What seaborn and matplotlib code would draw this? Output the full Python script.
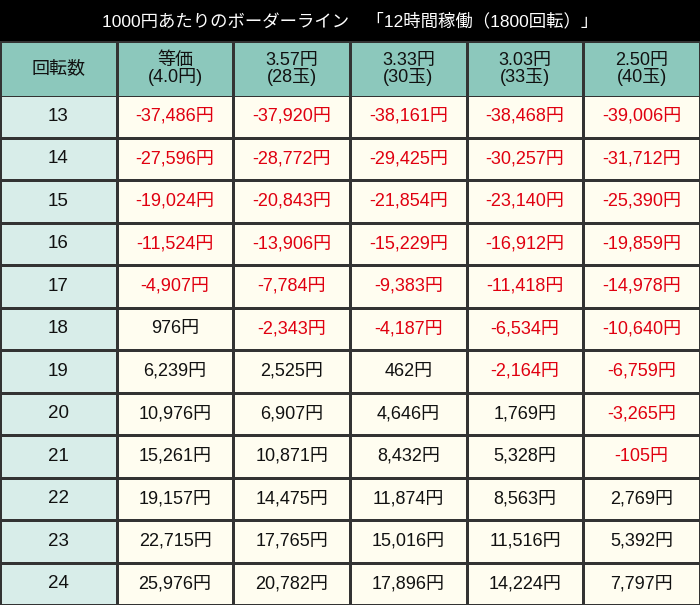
import matplotlib
matplotlib.use("Agg")
import matplotlib.pyplot as plt
import seaborn as sns
import numpy as np

title = "1000円あたりのボーダーライン　「12時間稼働（1800回転）」"
headers = ["回転数", "等価\n(4.0円)", "3.57円\n(28玉)", "3.33円\n(30玉)", "3.03円\n(33玉)", "2.50円\n(40玉)"]
spins = [13, 14, 15, 16, 17, 18, 19, 20, 21, 22, 23, 24]
rate_40 = [-37486, -27596, -19024, -11524, -4907, 976, 6239, 10976, 15261, 19157, 22715, 25976]
rate_357 = [-37920, -28772, -20843, -13906, -7784, -2343, 2525, 6907, 10871, 14475, 17765, 20782]
rate_333 = [-38161, -29425, -21854, -15229, -9383, -4187, 462, 4646, 8432, 11874, 15016, 17896]
rate_303 = [-38468, -30257, -23140, -16912, -11418, -6534, -2164, 1769, 5328, 8563, 11516, 14224]
rate_250 = [-39006, -31712, -25390, -19859, -14978, -10640, -6759, -3265, -105, 2769, 5392, 7797]

sns.set_theme(style="white")
plt.rcParams['font.family'] = ['Liberation Sans', 'Noto Sans CJK JP', 'DejaVu Sans']

fig = plt.figure(figsize=(7, 6.05), dpi=100)
fig.patch.set_facecolor("black")
from matplotlib.colors import ListedColormap

cols = [rate_40, rate_357, rate_333, rate_303, rate_250]
n = len(spins)
colormat = np.ones((n, 6)); colormat[:, 0] = 0
ax = fig.add_axes([0, 0, 1, 510/605])
sns.heatmap(colormat, cmap=ListedColormap(["#d8ede9", "#fffdf0"]), cbar=False,
            linewidths=1.0, linecolor="#333333", ax=ax, xticklabels=False, yticklabels=False)
for i in range(n):
    ax.text(0.5, i + 0.5, str(spins[i]), ha="center", va="center", fontsize=13.5, color="#111111")
    for j, c in enumerate(cols):
        v = c[i]
        ax.text(j + 1.5, i + 0.5, f"{v:,}円", ha="center", va="center", fontsize=13,
                color="#e00010" if v < 0 else "#111111")

hax = fig.add_axes([0, 508/605, 1, 56/605])
sns.heatmap(np.zeros((1, 6)), cmap=ListedColormap(["#8cc8bc"]), cbar=False,
            linewidths=1.0, linecolor="#333333", ax=hax, xticklabels=False, yticklabels=False)
for j, h in enumerate(headers):
    hax.text(j + 0.5, 0.5, h, ha="center", va="center", fontsize=13, color="#111111",
             linespacing=1.0)

fig.text(0.5, 1 - 21/605, title, ha="center", va="center", fontsize=12.5, color="white")
fig.savefig("out.png", dpi=100, facecolor="black")
